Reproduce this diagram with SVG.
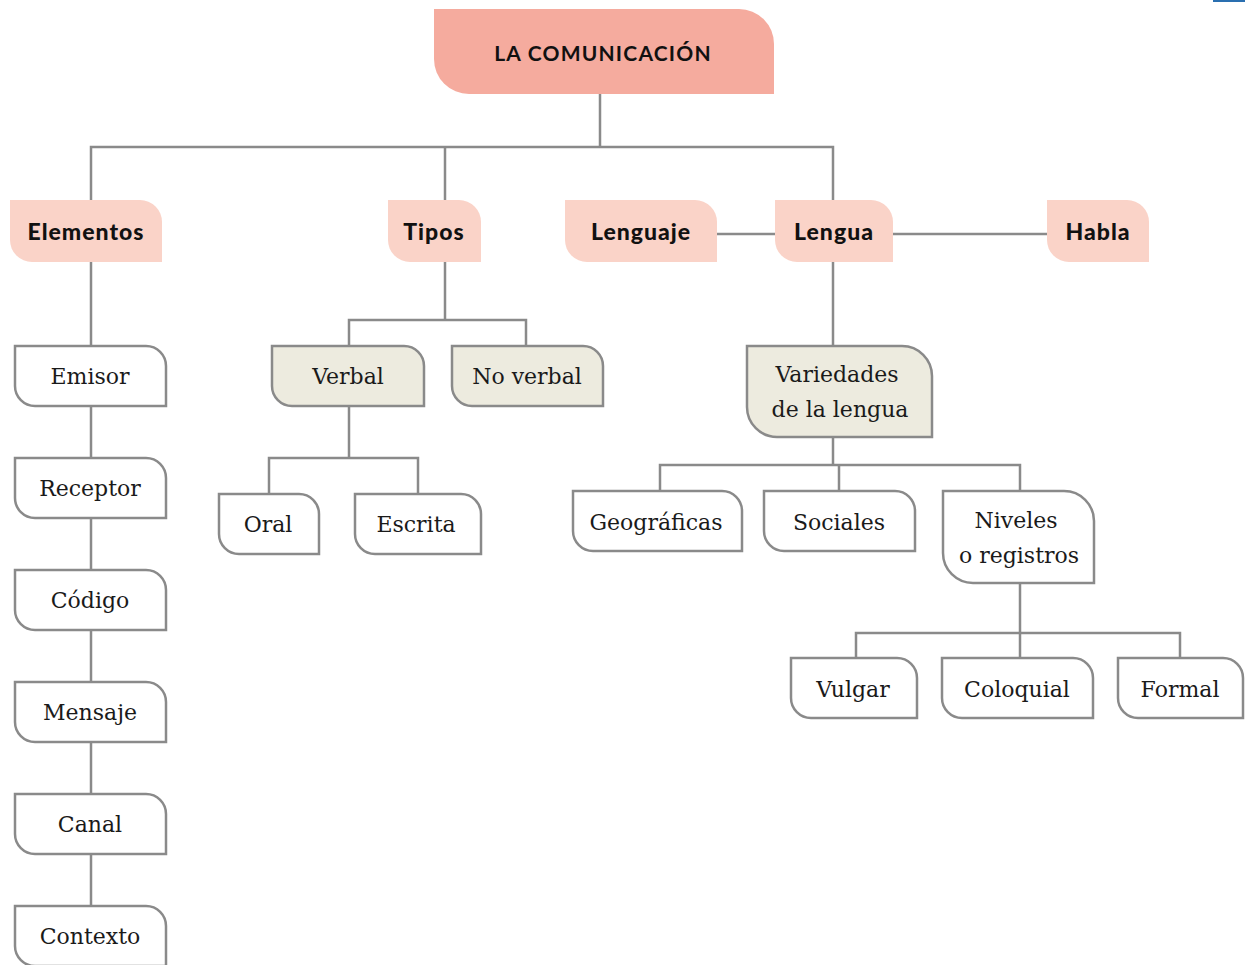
<svg xmlns="http://www.w3.org/2000/svg" width="1245" height="965" viewBox="0 0 1245 965">
<style>
.line{fill:none;stroke:#8a8a8a;stroke-width:2.5}
.title{fill:#f5ab9e}
.head{fill:#fad3c8}
.box{fill:#ffffff;stroke:#8a8a8a;stroke-width:2.5}
.beige{fill:#edebdf;stroke:#8a8a8a;stroke-width:2.5}
.tt{font-family:Lato,"Noto Sans",sans-serif;font-weight:700;font-size:21px;fill:#111;text-anchor:middle;letter-spacing:1.2px}
.ht{font-family:Lato,"Noto Sans",sans-serif;font-weight:900;font-size:23px;fill:#111;text-anchor:middle;letter-spacing:1px}
.bt{font-family:"DejaVu Serif",serif;font-size:22px;fill:#1a1a1a;text-anchor:middle}
</style>
<path d="M1213 0 H1245 V2 H1213 Z" fill="#2a6fb0"/>
<g id="connectors">
<path class="line" d="M600 94 V147 M91 200 V147 H833 V200 M445 147 V200"/>
<path class="line" d="M717 234 H775 M893 234 H1047"/>
<path class="line" d="M91 262 V906"/>
<path class="line" d="M445 262 V320 M349 346 V320 H526 V346"/>
<path class="line" d="M349 406 V458 M269 494 V458 H418 V494"/>
<path class="line" d="M833 262 V346 M833 437 V465 M660 491 V465 H1020 V491 M839 465 V491"/>
<path class="line" d="M1020 583 V633 M856 658 V633 H1180 V658 M1020 633 V658"/>
</g>
<g id="n-comunicacion"><path class="title" d="M434 9 H739 A35 35 0 0 1 774 44 V94 H469 A35 35 0 0 1 434 59 Z"/><text class="tt" x="603" y="61">LA COMUNICACIÓN</text></g>
<g id="n-elementos"><path class="head" d="M10 200 H140 A22 22 0 0 1 162 222 V262 H32 A22 22 0 0 1 10 240 Z"/><text class="ht" x="86" y="240">Elementos</text></g>
<g id="n-tipos"><path class="head" d="M388 200 H459 A22 22 0 0 1 481 222 V262 H410 A22 22 0 0 1 388 240 Z"/><text class="ht" x="434" y="240">Tipos</text></g>
<g id="n-lenguaje"><path class="head" d="M565 200 H695 A22 22 0 0 1 717 222 V262 H587 A22 22 0 0 1 565 240 Z"/><text class="ht" x="641" y="240">Lenguaje</text></g>
<g id="n-lengua"><path class="head" d="M775 200 H871 A22 22 0 0 1 893 222 V262 H797 A22 22 0 0 1 775 240 Z"/><text class="ht" x="834" y="240">Lengua</text></g>
<g id="n-habla"><path class="head" d="M1047 200 H1127 A22 22 0 0 1 1149 222 V262 H1069 A22 22 0 0 1 1047 240 Z"/><text class="ht" x="1098" y="240">Habla</text></g>
<g id="n-emisor"><path class="box" d="M15 346 H146 A20 20 0 0 1 166 366 V406 H35 A20 20 0 0 1 15 386 Z"/><text class="bt" x="90" y="384">Emisor</text></g>
<g id="n-receptor"><path class="box" d="M15 458 H146 A20 20 0 0 1 166 478 V518 H35 A20 20 0 0 1 15 498 Z"/><text class="bt" x="90" y="496">Receptor</text></g>
<g id="n-codigo"><path class="box" d="M15 570 H146 A20 20 0 0 1 166 590 V630 H35 A20 20 0 0 1 15 610 Z"/><text class="bt" x="90" y="608">Código</text></g>
<g id="n-mensaje"><path class="box" d="M15 682 H146 A20 20 0 0 1 166 702 V742 H35 A20 20 0 0 1 15 722 Z"/><text class="bt" x="90" y="720">Mensaje</text></g>
<g id="n-canal"><path class="box" d="M15 794 H146 A20 20 0 0 1 166 814 V854 H35 A20 20 0 0 1 15 834 Z"/><text class="bt" x="90" y="832">Canal</text></g>
<g id="n-contexto"><path class="box" d="M15 906 H146 A20 20 0 0 1 166 926 V966 H35 A20 20 0 0 1 15 946 Z"/><text class="bt" x="90" y="944">Contexto</text></g>
<g id="n-verbal"><path class="beige" d="M272 346 H404 A20 20 0 0 1 424 366 V406 H292 A20 20 0 0 1 272 386 Z"/><text class="bt" x="348" y="384">Verbal</text></g>
<g id="n-noverbal"><path class="beige" d="M452 346 H583 A20 20 0 0 1 603 366 V406 H472 A20 20 0 0 1 452 386 Z"/><text class="bt" x="527" y="384">No verbal</text></g>
<g id="n-oral"><path class="box" d="M219 494 H299 A20 20 0 0 1 319 514 V554 H239 A20 20 0 0 1 219 534 Z"/><text class="bt" x="268" y="532">Oral</text></g>
<g id="n-escrita"><path class="box" d="M355 494 H461 A20 20 0 0 1 481 514 V554 H375 A20 20 0 0 1 355 534 Z"/><text class="bt" x="416" y="532">Escrita</text></g>
<g id="n-variedades"><path class="beige" d="M747 346 H902 A30 30 0 0 1 932 376 V437 H777 A30 30 0 0 1 747 407 Z"/><text class="bt" x="837" y="382">Variedades</text><text class="bt" x="840" y="417">de la lengua</text></g>
<g id="n-geograficas"><path class="box" d="M573 491 H722 A20 20 0 0 1 742 511 V551 H593 A20 20 0 0 1 573 531 Z"/><text class="bt" x="656" y="530">Geográficas</text></g>
<g id="n-sociales"><path class="box" d="M764 491 H895 A20 20 0 0 1 915 511 V551 H784 A20 20 0 0 1 764 531 Z"/><text class="bt" x="839" y="530">Sociales</text></g>
<g id="n-niveles"><path class="box" d="M943 491 H1064 A30 30 0 0 1 1094 521 V583 H973 A30 30 0 0 1 943 553 Z"/><text class="bt" x="1016" y="528">Niveles</text><text class="bt" x="1019" y="563">o registros</text></g>
<g id="n-vulgar"><path class="box" d="M791 658 H897 A20 20 0 0 1 917 678 V718 H811 A20 20 0 0 1 791 698 Z"/><text class="bt" x="853" y="697">Vulgar</text></g>
<g id="n-coloquial"><path class="box" d="M942 658 H1073 A20 20 0 0 1 1093 678 V718 H962 A20 20 0 0 1 942 698 Z"/><text class="bt" x="1017" y="697">Coloquial</text></g>
<g id="n-formal"><path class="box" d="M1118 658 H1223 A20 20 0 0 1 1243 678 V718 H1138 A20 20 0 0 1 1118 698 Z"/><text class="bt" x="1180" y="697">Formal</text></g>
</svg>
